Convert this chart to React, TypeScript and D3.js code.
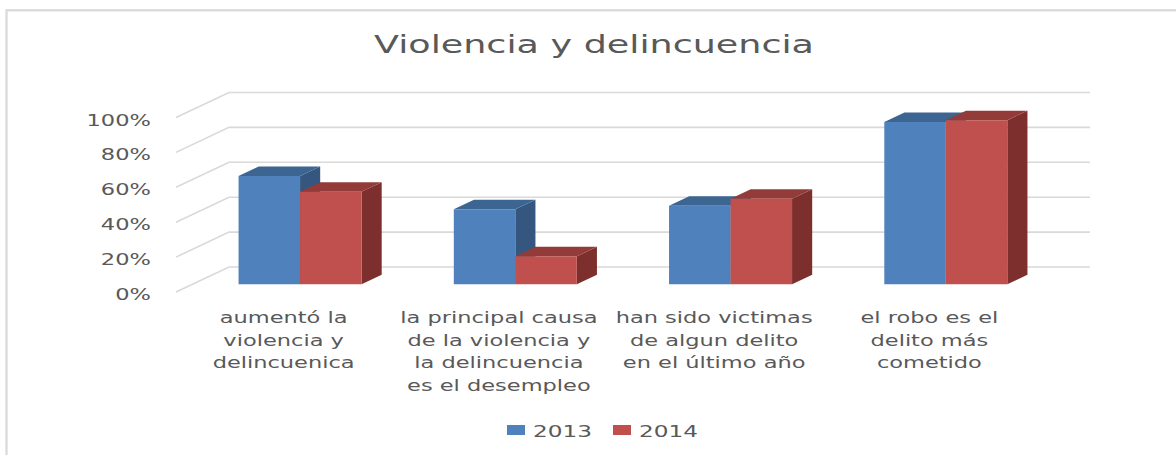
import React from "react";
import * as d3 from "d3";

const title = "Violencia y delincuencia";
const categories = [
  ["aumentó la", "violencia y", "delincuenica"],
  ["la principal causa", "de la violencia y", "la delincuencia", "es el desempleo"],
  ["han sido victimas", "de algun delito", "en el último año"],
  ["el robo es el", "delito más", "cometido"],
];
const seriesNames = ["2013", "2014"];
const values2013 = [0.62, 0.43, 0.45, 0.93];
const values2014 = [0.53, 0.16, 0.49, 0.94];
const yTicks = [0, 0.2, 0.4, 0.6, 0.8, 1.0];

const W = 1176;
const H = 455;
const FONT = "'DejaVu Sans', sans-serif";
const TEXT = "#595959";
const GRID = "#D9D9D9";
const frontLeft = 176;
const frontRight = 1037;
const depthDx = 53;
const depthDy = -25;
const barF0 = 0.31;
const barF1 = 0.69;

const faceColors = [
  { front: "#4F81BD", top: "#3C6592", side: "#34567F" },
  { front: "#C0504D", top: "#933B39", side: "#7C2F2D" },
];

export default function App() {
  const y = d3.scaleLinear().domain([0, 1]).range([292, 117.5]);
  const xCat = d3
    .scaleBand<number>()
    .domain(categories.map((_, i) => i))
    .range([frontLeft, frontRight])
    .paddingInner(1.5 / 3.5)
    .paddingOuter(0.75 / 3.5);
  const xSer = d3
    .scaleBand<number>()
    .domain(seriesNames.map((_, i) => i))
    .range([0, xCat.bandwidth()]);

  const P = (x: number, v: number, f: number) =>
    `${x + depthDx * f},${y(v) + depthDy * f}`;

  const allValues = [values2013, values2014];

  const bars: React.ReactNode[] = [];
  categories.forEach((_, ci) => {
    seriesNames.forEach((_, si) => {
      const v = allValues[si][ci];
      const x0 = (xCat(ci) as number) + (xSer(si) as number);
      const x1 = x0 + xSer.bandwidth();
      const c = faceColors[si];
      bars.push(
        <g key={`b${ci}-${si}`}>
          <polygon
            points={[P(x1, v, barF0), P(x1, v, barF1), P(x1, 0, barF1), P(x1, 0, barF0)].join(" ")}
            fill={c.side}
          />
          <polygon
            points={[P(x0, v, barF0), P(x1, v, barF0), P(x1, v, barF1), P(x0, v, barF1)].join(" ")}
            fill={c.top}
          />
          <polygon
            points={[P(x0, v, barF0), P(x1, v, barF0), P(x1, 0, barF0), P(x0, 0, barF0)].join(" ")}
            fill={c.front}
          />
        </g>
      );
    });
  });

  return (
    <svg
      width={W}
      height={H}
      style={{ position: "absolute", left: 0, top: 0, background: "#fff" }}
      fontFamily={FONT}
    >
      <rect x={0} y={0} width={W} height={H} fill="#fff" />
      <rect x={6.5} y={10.3} width={1300} height={600} fill="none" stroke={GRID} strokeWidth={2.2} />

      <text
        transform={`translate(594,53) scale(1.46,1)`}
        textAnchor="middle"
        fontSize={25}
        fill={TEXT}
      >
        {title}
      </text>

      {yTicks.map((t) => (
        <g key={`g${t}`}>
          <polyline
            points={[P(frontLeft, t, 0), P(frontLeft, t, 1), P(frontRight, t, 1)].join(" ")}
            fill="none"
            stroke={GRID}
            strokeWidth={1.6}
          />
          <text
            transform={`translate(151,${y(t) + 8}) scale(1.41,1)`}
            textAnchor="end"
            fontSize={16}
            fill={TEXT}
          >
            {`${Math.round(t * 100)}%`}
          </text>
        </g>
      ))}

      {bars}

      {categories.map((lines, ci) => (
        <g key={`c${ci}`}>
          {lines.map((ln, li) => (
            <text
              key={li}
              transform={`translate(${(xCat(ci) as number) + xCat.bandwidth() / 2},${323 + li * 22.5}) scale(1.5,1)`}
              textAnchor="middle"
              fontSize={15}
              fill={TEXT}
            >
              {ln}
            </text>
          ))}
        </g>
      ))}

      {seriesNames.map((s, si) => {
        const lx = 507 + si * 106;
        return (
          <g key={`l${s}`}>
            <rect x={lx} y={425} width={18} height={10} fill={faceColors[si].front} />
            <text
              transform={`translate(${lx + 26},437) scale(1.45,1)`}
              fontSize={16}
              fill={TEXT}
            >
              {s}
            </text>
          </g>
        );
      })}
    </svg>
  );
}
